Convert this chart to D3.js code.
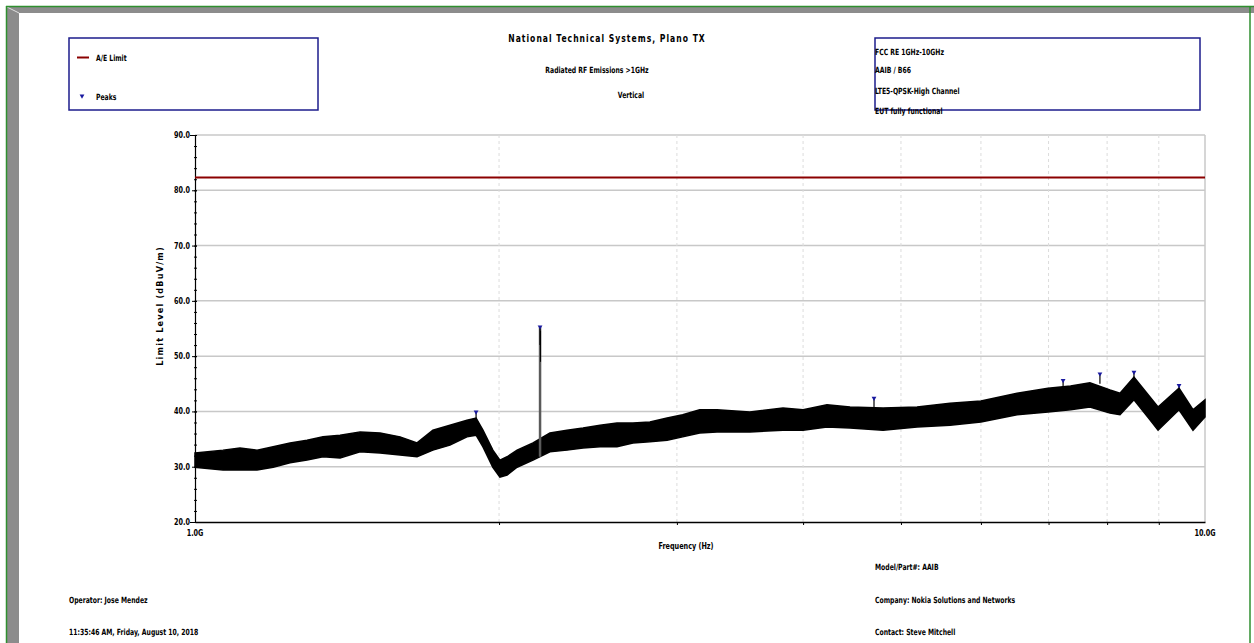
<!DOCTYPE html>
<html>
<head>
<meta charset="utf-8">
<script src="https://cdn.jsdelivr.net/npm/d3@7"></script>
<style>
  body { margin: 0; background: #fff; }
  svg text { font-family: "DejaVu Sans Condensed", "Liberation Sans Narrow", "Arial Narrow", sans-serif; fill: #000; }
</style>
</head>
<body>
<div id="chart"></div>
<script>
// frequency points (GHz) with the upper / lower edge of the noise band (dBuV/m)
const freqGHz = [1.000, 1.066, 1.108, 1.152, 1.195, 1.242, 1.291, 1.339, 1.392, 1.457,
  1.525, 1.596, 1.659, 1.720, 1.788, 1.859, 1.898, 1.928, 1.972, 2.004,
  2.037, 2.084, 2.161, 2.246, 2.335, 2.422, 2.518, 2.617, 2.714, 2.821,
  2.934, 3.040, 3.160, 3.287, 3.543, 3.821, 4.000, 4.224, 4.452, 4.800,
  5.187, 5.592, 6.000, 6.515, 6.991, 7.360, 7.692, 8.052, 8.238, 8.505,
  8.821, 8.985, 9.425, 9.730, 10.000];
const bandUpper = [32.5, 33.0, 33.4, 33.0, 33.6, 34.3, 34.8, 35.4, 35.7, 36.3,
  36.1, 35.4, 34.3, 36.6, 37.5, 38.4, 38.8, 36.6, 33.0, 31.2,
  31.8, 33.0, 34.3, 36.1, 36.6, 37.0, 37.5, 37.9, 37.9, 38.1,
  38.8, 39.4, 40.3, 40.3, 39.9, 40.6, 40.3, 41.2, 40.8, 40.6,
  40.8, 41.5, 41.9, 43.3, 44.2, 44.6, 45.2, 43.9, 43.3, 46.2,
  42.6, 40.8, 44.2, 40.3, 42.1];
const bandLower = [29.9, 29.4, 29.4, 29.4, 29.9, 30.7, 31.2, 31.8, 31.6, 32.7,
  32.5, 32.1, 31.8, 33.0, 33.9, 35.4, 35.7, 33.6, 29.9, 28.1,
  28.5, 29.9, 31.2, 32.7, 33.0, 33.4, 33.6, 33.6, 34.3, 34.5,
  34.8, 35.4, 36.1, 36.3, 36.3, 36.6, 36.6, 37.2, 37.0, 36.6,
  37.2, 37.5, 38.1, 39.4, 39.9, 40.3, 40.8, 39.7, 39.4, 42.1,
  38.5, 36.6, 40.3, 36.6, 39.0];

// narrow carrier spike
const spikeFreq = 2.196;
const spikeBase = 31.8;
const spikeTop = 55.3;

// detected peaks and the band top under each one
const peakFreq = [1.898, 2.196, 4.702, 7.236, 7.870, 8.505, 9.425];
const peakLevel = [39.9, 55.3, 42.4, 45.6, 46.8, 47.1, 44.7];
const peakBase = [38.8, 52.0, 40.6, 44.3, 45.0, 46.2, 44.2];

// limit line
const limitLevel = 82.3;

const yTicks = [20, 30, 40, 50, 60, 70, 80, 90];
const xGrid = [2, 3, 4, 5, 6, 7, 8, 9];

const headerLines = ["FCC RE 1GHz-10GHz", "AAIB /  B66", "LTE5-QPSK-High Channel", "EUT fully functional"];
const footerLeft = ["Operator: Jose Mendez", "11:35:46 AM, Friday, August 10, 2018"];
const footerRight = ["Model/Part#: AAIB", "Company: Nokia Solutions and Networks", "Contact: Steve Mitchell"];

const W = 1254, H = 643;
const plot = {left: 195, right: 1205, top: 135, bottom: 522};
const squeeze = 0.8;

const svg = d3.select("#chart").append("svg")
  .attr("width", W).attr("height", H);

// narrow text helper
function label(g, x0, y0, str, size, anchor) {
  return g.append("text")
    .attr("transform", `translate(${x0},${y0}) scale(${squeeze},1)`)
    .attr("text-anchor", anchor || "start")
    .attr("font-size", size).attr("font-weight", "bold")
    .text(str);
}

// page frame
svg.append("rect").attr("x", 0).attr("y", 0).attr("width", W).attr("height", H).attr("fill", "#fff");
svg.append("rect").attr("x", 7).attr("y", 7).attr("width", W - 7).attr("height", 6).attr("fill", "#8c8c8c");
svg.append("rect").attr("x", 7).attr("y", 7).attr("width", 12).attr("height", H).attr("fill", "#8c8c8c");
svg.append("line").attr("x1", 7).attr("y1", 7).attr("x2", 19).attr("y2", 13)
  .attr("stroke", "#e0e0e0").attr("stroke-width", 1);
svg.append("line").attr("x1", 6).attr("y1", 6.5).attr("x2", W).attr("y2", 6.5)
  .attr("stroke", "#2f8f2f").attr("stroke-width", 1.5);
svg.append("line").attr("x1", 6.5).attr("y1", 6).attr("x2", 6.5).attr("y2", H)
  .attr("stroke", "#2f8f2f").attr("stroke-width", 1.5);
svg.append("line").attr("x1", 1250).attr("y1", 6).attr("x2", 1250).attr("y2", H)
  .attr("stroke", "#2f8f2f").attr("stroke-width", 1.5);

// scales
const x = d3.scaleLog().domain([1, 10]).range([plot.left, plot.right]);
const y = d3.scaleLinear().domain([20, 90]).range([plot.bottom, plot.top]);

// grid
svg.append("g").selectAll("line").data(yTicks.filter(d => d > 20)).enter().append("line")
  .attr("x1", plot.left).attr("x2", plot.right)
  .attr("y1", d => y(d)).attr("y2", d => y(d))
  .attr("stroke", "#c8c8c8").attr("stroke-width", 1.5);
svg.append("g").selectAll("line").data(xGrid).enter().append("line")
  .attr("x1", d => x(d)).attr("x2", d => x(d))
  .attr("y1", plot.top).attr("y2", plot.bottom)
  .attr("stroke", "#dcdcdc").attr("stroke-width", 1).attr("stroke-dasharray", "3,3");
svg.append("line").attr("x1", plot.right).attr("x2", plot.right)
  .attr("y1", plot.top).attr("y2", plot.bottom)
  .attr("stroke", "#c8c8c8").attr("stroke-width", 1.5);

// y axis
const yAxis = svg.append("g").attr("transform", `translate(${plot.left},0)`)
  .call(d3.axisLeft(y).tickValues(yTicks).tickFormat("").tickSize(5));
yAxis.select(".domain").attr("stroke", "#000").attr("stroke-width", 1.2);
yAxis.selectAll(".tick line").attr("transform", "translate(2,0)");
const yLab = svg.append("g");
yTicks.forEach(t => label(yLab, plot.left - 5, y(t) + 3, d3.format(".1f")(t), 9, "end"));
svg.append("g").attr("transform", `translate(${plot.left},0)`)
  .call(d3.axisLeft(y).ticks(35).tickFormat("").tickSizeInner(3).tickSizeOuter(0))
  .call(g => g.select(".domain").remove())
  .selectAll("line").attr("transform", "translate(2,0)");

// x axis
const xAxis = svg.append("g").attr("transform", `translate(0,${plot.bottom})`)
  .call(d3.axisBottom(x).tickValues(xGrid).tickSize(3).tickSizeOuter(0).tickFormat(""));
xAxis.select(".domain").attr("stroke", "#000").attr("stroke-width", 1.5);
const xLab = svg.append("g");
[1, 10].forEach(t => label(xLab, x(t), plot.bottom + 14, d3.format(".1f")(t) + "G", 9, "middle"));

// limit line
svg.append("line")
  .attr("x1", plot.left).attr("x2", plot.right)
  .attr("y1", y(limitLevel)).attr("y2", y(limitLevel))
  .attr("stroke", "#8b0000").attr("stroke-width", 2);

// emission trace band
const bandData = freqGHz.map((f, i) => ({f: f, hi: bandUpper[i], lo: bandLower[i]}));
svg.append("path").datum(bandData)
  .attr("d", d3.area().x(d => x(d.f)).y0(d => y(d.lo)).y1(d => y(d.hi)))
  .attr("fill", "#000").attr("stroke", "#000").attr("stroke-width", 1.5);

// spike
svg.append("line")
  .attr("x1", x(spikeFreq)).attr("x2", x(spikeFreq))
  .attr("y1", y(spikeBase)).attr("y2", y(spikeTop))
  .attr("stroke", "#5a5a5a").attr("stroke-width", 2.5);
svg.append("line")
  .attr("x1", x(spikeFreq) + 0.5).attr("x2", x(spikeFreq) + 0.5)
  .attr("y1", y(spikeTop) + 4).attr("y2", y(spikeTop) + 35)
  .attr("stroke", "#000").attr("stroke-width", 1);

// small spikes under the other peaks
svg.append("g").selectAll("line").data(peakFreq).enter().append("line")
  .attr("x1", d => x(d)).attr("x2", d => x(d))
  .attr("y1", (d, i) => y(peakBase[i])).attr("y2", (d, i) => y(peakLevel[i]))
  .attr("stroke", "#000").attr("stroke-width", 1.2);

// peak markers
const tri = d3.symbol().type(d3.symbolTriangle).size(10);
svg.append("g").selectAll("path").data(peakFreq).enter().append("path")
  .attr("d", tri)
  .attr("transform", (d, i) => `translate(${x(d)},${y(peakLevel[i])}) rotate(180)`)
  .attr("fill", "#1a1aa0");

// axis titles
label(svg, 686, 549, "Frequency (Hz)", 9, "middle");
svg.append("text").attr("transform", "translate(163,306) rotate(-90)").attr("text-anchor", "middle")
  .attr("font-size", 9).attr("font-weight", "bold").attr("letter-spacing", 1.2)
  .text("Limit  Level  (dBuV/m)");

// titles
svg.append("text").attr("transform", "translate(607,42) scale(0.85,1)").attr("text-anchor", "middle")
  .attr("font-size", 10).attr("font-weight", "bold").attr("letter-spacing", 1.2)
  .text("National Technical Systems, Plano TX");
label(svg, 597, 73, "Radiated RF Emissions >1GHz", 8.5, "middle");
label(svg, 631, 98, "Vertical", 8.5, "middle");

// legend box
svg.append("rect").attr("x", 69).attr("y", 38).attr("width", 249).attr("height", 72)
  .attr("fill", "none").attr("stroke", "#1c1c8c").attr("stroke-width", 1.5);
svg.append("line").attr("x1", 77).attr("x2", 89).attr("y1", 57.5).attr("y2", 57.5)
  .attr("stroke", "#8b0000").attr("stroke-width", 2);
label(svg, 96, 61, "A/E Limit", 8.5);
svg.append("path").attr("d", tri).attr("transform", "translate(82,96) rotate(180)").attr("fill", "#1a1aa0");
label(svg, 96, 100, "Peaks", 8.5);

// info box
svg.append("rect").attr("x", 875).attr("y", 38).attr("width", 325).attr("height", 72)
  .attr("fill", "none").attr("stroke", "#1c1c8c").attr("stroke-width", 1.5);
const info = svg.append("g");
headerLines.forEach((d, i) => label(info, 875, [55, 73, 94, 114][i], d, 8.5));

// footer
const foot = svg.append("g");
footerLeft.forEach((d, i) => label(foot, 69, [603, 635][i], d, 8.5));
footerRight.forEach((d, i) => label(foot, 875, [570, 603, 635][i], d, 8.5));
</script>
</body>
</html>
